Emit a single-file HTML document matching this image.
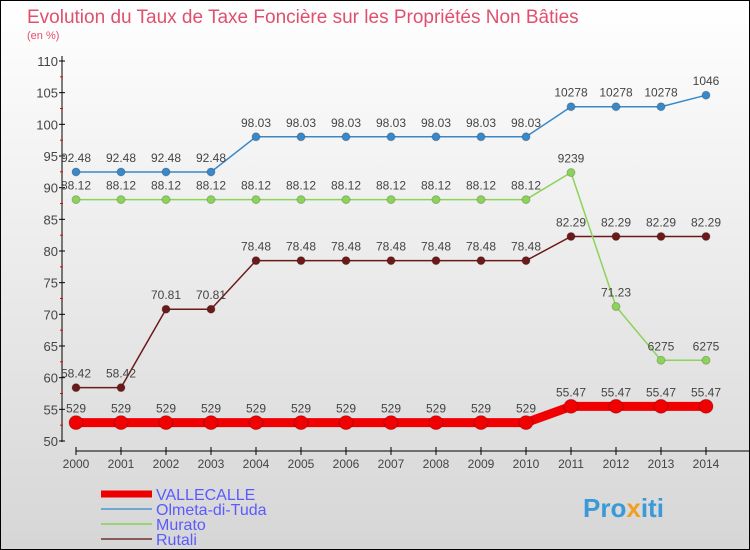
<!DOCTYPE html>
<html><head><meta charset="utf-8"><style>
body{margin:0}
#c{position:relative;width:748px;height:548px;border:1px solid #000;background:linear-gradient(#fff,#d6d6d6);font-family:"Liberation Sans",sans-serif;overflow:hidden}
</style></head><body>
<div id="c">
<svg width="748" height="548" id="svg">
<text x="26" y="22" font-size="19" fill="#e0506e">Evolution du Taux de Taxe Foncière sur les Propriétés Non Bâties</text>
<text x="26" y="38" font-size="11" fill="#e0506e">(en %)</text>
<g id="axes"></g><g id="series"></g>
<g>
<line x1="100" y1="493" x2="151" y2="493" stroke="#e00" stroke-width="7"/>
<text x="155" y="499" font-size="16" fill="#5a5aff">VALLECALLE</text>
<line x1="100" y1="508" x2="151" y2="508" stroke="#6fa6cf" stroke-width="2"/>
<text x="155" y="514" font-size="16" fill="#5a5aff">Olmeta-di-Tuda</text>
<line x1="100" y1="523" x2="151" y2="523" stroke="#9ad27a" stroke-width="2"/>
<text x="155" y="529" font-size="16" fill="#5a5aff">Murato</text>
<line x1="100" y1="538" x2="151" y2="538" stroke="#8b5a5a" stroke-width="2"/>
<text x="155" y="544" font-size="16" fill="#5a5aff">Rutali</text>
</g>
<text x="582" y="516" font-size="26" font-weight="bold" fill="#3a9ad8">Pro<tspan fill="#f0a020">x</tspan>iti</text>
</svg>
</div>
<script>
const years=[2000,2001,2002,2003,2004,2005,2006,2007,2008,2009,2010,2011,2012,2013,2014];
const yTicks=[50,55,60,65,70,75,80,85,90,95,100,105,110];
const vallecalle=[52.9,52.9,52.9,52.9,52.9,52.9,52.9,52.9,52.9,52.9,52.9,55.47,55.47,55.47,55.47];
const olmeta=[92.48,92.48,92.48,92.48,98.03,98.03,98.03,98.03,98.03,98.03,98.03,102.78,102.78,102.78,104.6];
const murato=[88.12,88.12,88.12,88.12,88.12,88.12,88.12,88.12,88.12,88.12,88.12,92.39,71.23,62.75,62.75];
const rutali=[58.42,58.42,70.81,70.81,78.48,78.48,78.48,78.48,78.48,78.48,78.48,82.29,82.29,82.29,82.29];
const NS="http://www.w3.org/2000/svg";
const X=i=>75+i*45, Y=v=>440-(v-50)*380/60;
function mk(t,a,p){const e=document.createElementNS(NS,t);for(const k in a)e.setAttribute(k,a[k]);p.appendChild(e);return e;}
const ax=document.getElementById('axes'),sg=document.getElementById('series');
let l=mk('line',{x1:61,y1:55,x2:61,y2:441,stroke:'#000'},ax);


yTicks.forEach(v=>{mk('line',{x1:58,y1:Y(v),x2:64,y2:Y(v),stroke:'#000'},ax);
 if(v<110)mk('line',{x1:59,y1:Y(v+2.5),x2:62,y2:Y(v+2.5),stroke:'#e00'},ax);
 const t=mk('text',{x:57,y:Y(v)+5,'font-size':13,fill:'#444','text-anchor':'end'},ax);t.textContent=v;
 
 });
l=mk('line',{x1:75,y1:450,x2:748,y2:450,stroke:'#000'},ax);


years.forEach((y,i)=>{mk('line',{x1:X(i),y1:446,x2:X(i),y2:454,stroke:'#000'},ax);
 const t=mk('text',{x:X(i),y:467,'font-size':12,fill:'#444','text-anchor':'middle'},ax);t.textContent=y;
 
 });
function fmt(v){return String(v).replace('.','');}
function draw(vals,name,col,w,r,lab){
 const p=mk('polyline',{points:vals.map((v,i)=>X(i)+','+Y(v)).join(' '),fill:'none',stroke:col,'stroke-width':w},sg);
 
 
 vals.forEach((v,i)=>{const c=mk('circle',{cx:X(i),cy:Y(v),r:r,fill:col,stroke:'#0003'},sg);
  
  
  const t=mk('text',{x:X(i),y:Y(v)-10,'font-size':12,fill:'#444','text-anchor':'middle'},sg);
  t.textContent=lab(v);
  
  });
}
draw(rutali,'rutali','#6b1a1a',1.5,4,v=>v);
draw(murato,'murato','#8cd35a',1.5,4,v=>(v===92.39||v===62.75)?fmt(v):v);
draw(olmeta,'olmeta','#3a88c8',1.5,4,v=>v>100?fmt(v):v);
draw(vallecalle,'vallecalle','#f00000',9,7,v=>v<53?fmt(v):v);
</script>
</body></html>
